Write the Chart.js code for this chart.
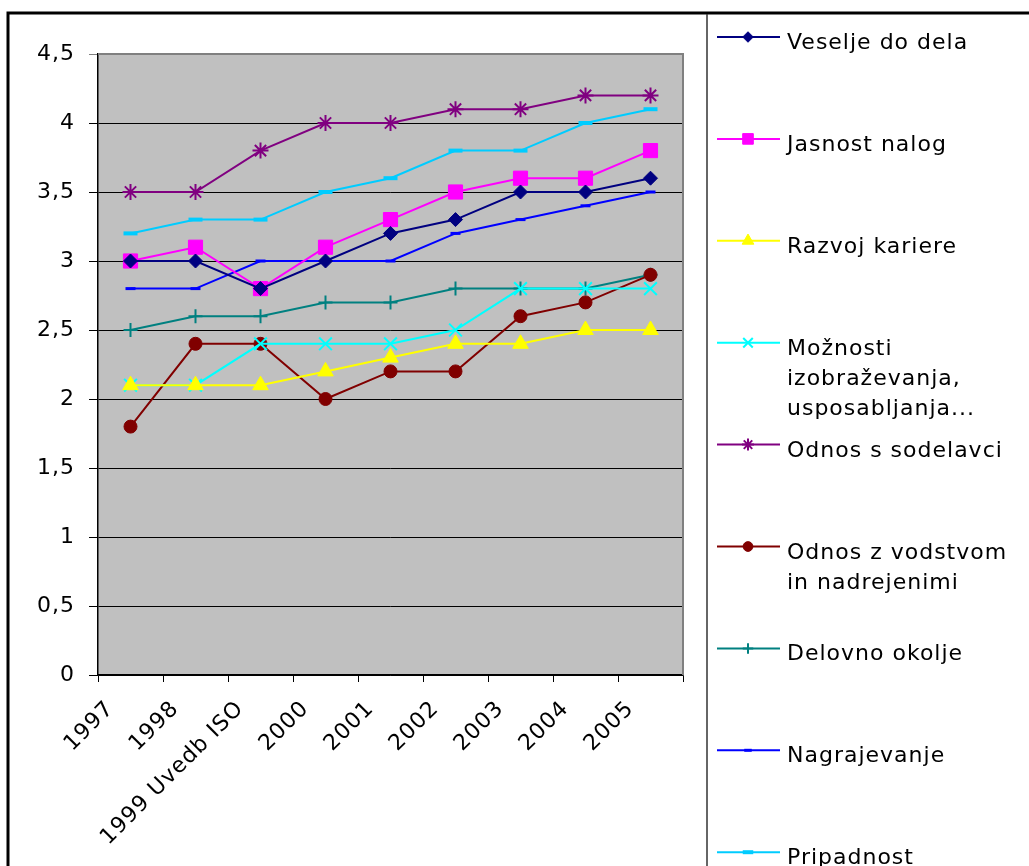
<!DOCTYPE html>
<html>
<head>
<meta charset="utf-8">
<script src="https://cdn.jsdelivr.net/npm/chart.js@4/dist/chart.umd.min.js"></script>
<style>
  html, body { margin: 0; padding: 0; background: #fff; }
  canvas { display: block; }
</style>
</head>
<body>
<canvas id="chart" width="1029" height="866"></canvas>
<script>
const years = ["1997", "1998", "1999 Uvedb ISO", "2000", "2001", "2002", "2003", "2004", "2005"];

const veselje      = [3.0, 3.0, 2.8, 3.0, 3.2, 3.3, 3.5, 3.5, 3.6];
const jasnost      = [3.0, 3.1, 2.8, 3.1, 3.3, 3.5, 3.6, 3.6, 3.8];
const kariera      = [2.1, 2.1, 2.1, 2.2, 2.3, 2.4, 2.4, 2.5, 2.5];
const izobrazevanje = [2.1, 2.1, 2.4, 2.4, 2.4, 2.5, 2.8, 2.8, 2.8];
const sodelavci    = [3.5, 3.5, 3.8, 4.0, 4.0, 4.1, 4.1, 4.2, 4.2];
const vodstvo      = [1.8, 2.4, 2.4, 2.0, 2.2, 2.2, 2.6, 2.7, 2.9];
const okolje       = [2.5, 2.6, 2.6, 2.7, 2.7, 2.8, 2.8, 2.8, 2.9];
const nagrajevanje = [2.8, 2.8, 3.0, 3.0, 3.0, 3.2, 3.3, 3.4, 3.5];
const pripadnost   = [3.2, 3.3, 3.3, 3.5, 3.6, 3.8, 3.8, 4.0, 4.1];

const seriesNames = [
  "Veselje do dela",
  "Jasnost nalog",
  "Razvoj kariere",
  "Možnosti\nizobraževanja,\nusposabljanja...",
  "Odnos s sodelavci",
  "Odnos z vodstvom\nin nadrejenimi",
  "Delovno okolje",
  "Nagrajevanje",
  "Pripadnost"
];
const yTicks = [0, 0.5, 1, 1.5, 2, 2.5, 3, 3.5, 4, 4.5];

const FONT = "'DejaVu Sans', Arial, sans-serif";

function series(i, data, color, style, radius, bw) {
  return {
    label: seriesNames[i],
    data: data,
    borderColor: color,
    backgroundColor: color,
    borderWidth: 2,
    pointStyle: style,
    pointRadius: radius,
    pointHoverRadius: radius,
    pointBorderWidth: bw,
    pointBackgroundColor: color,
    pointBorderColor: color,
    tension: 0
  };
}

// grey plot area + frame around the whole chart
const framePlugin = {
  id: 'framePlugin',
  beforeUpdate(chart) {
    chart.ctx.letterSpacing = '1px';
  },
  beforeDraw(chart) {
    const { ctx, chartArea: a } = chart;
    ctx.save();
    ctx.fillStyle = '#fff';
    ctx.fillRect(0, 0, chart.width, chart.height);
    ctx.fillStyle = '#c0c0c0';
    ctx.fillRect(a.left, a.top, a.right - a.left, a.bottom - a.top);
    ctx.strokeStyle = '#000';
    ctx.lineWidth = 3;
    ctx.beginPath();
    ctx.moveTo(8, chart.height);
    ctx.lineTo(8, 13);
    ctx.lineTo(chart.width, 13);
    ctx.stroke();
    ctx.strokeStyle = '#333';
    ctx.lineWidth = 1.5;
    ctx.beginPath();
    ctx.moveTo(707, 14);
    ctx.lineTo(707, chart.height);
    ctx.stroke();
    ctx.restore();
  },
  beforeDatasetsDraw(chart) {
    const { ctx, chartArea: a } = chart;
    ctx.save();
    ctx.strokeStyle = '#808080';
    ctx.lineWidth = 2;
    ctx.beginPath();
    ctx.moveTo(a.left, a.top);
    ctx.lineTo(a.right, a.top);
    ctx.lineTo(a.right, a.bottom);
    ctx.stroke();
    ctx.restore();
  }
};

// legend to the right of the plot, one row per series
const sideLegend = {
  id: 'sideLegend',
  afterDraw(chart, args, opts) {
    const ctx = chart.ctx;
    ctx.save();
    chart.data.datasets.forEach((ds, i) => {
      const y = opts.top + i * opts.step;
      ctx.strokeStyle = ds.borderColor;
      ctx.fillStyle = ds.borderColor;
      ctx.lineWidth = 2;
      ctx.beginPath();
      ctx.moveTo(opts.x, y);
      ctx.lineTo(opts.x + 63, y);
      ctx.stroke();
      ctx.lineWidth = ds.pointBorderWidth;
      Chart.helpers.drawPoint(ctx, {
        pointStyle: ds.pointStyle,
        radius: ds.pointRadius * 0.75,
        borderWidth: ds.pointBorderWidth,
        rotation: 0
      }, opts.x + 31, y);
      ctx.fillStyle = '#000';
      ctx.font = '22px ' + FONT;
      ctx.textBaseline = 'alphabetic';
      ctx.textAlign = 'left';
      ds.label.split('\n').forEach((line, k) => {
        ctx.fillText(line, opts.x + 70, y + 12 + k * 30);
      });
    });
    ctx.restore();
  }
};

const ctx = document.getElementById('chart').getContext('2d');
const chart = new Chart(ctx, {
  type: 'line',
  data: {
    labels: years,
    datasets: [
      series(0, veselje, '#000080', 'rectRot', 7, 1),
      series(1, jasnost, '#ff00ff', 'rect', 10, 1),
      series(2, kariera, '#ffff00', 'triangle', 9, 1),
      series(3, izobrazevanje, '#00ffff', 'crossRot', 9, 2),
      series(4, sodelavci, '#800080', 'star', 8, 2),
      series(5, vodstvo, '#800000', 'circle', 6.5, 1),
      series(6, okolje, '#008080', 'cross', 7, 2),
      series(7, nagrajevanje, '#0000ff', 'line', 5, 3),
      series(8, pripadnost, '#00ccff', 'line', 7, 4)
    ]
  },
  options: {
    responsive: false,
    animation: false,
    events: [],
    layout: { padding: { left: 19, top: 54, right: 346, bottom: 20 } },
    plugins: {
      legend: { display: false },
      tooltip: { enabled: false },
      sideLegend: { x: 717, top: 37, step: 101.9 }
    },
    scales: {
      x: {
        offset: true,
        afterFit(scale) { scale.height = 171; },
        grid: {
          offset: true,
          drawOnChartArea: false,
          drawTicks: true,
          tickLength: 7,
          color: '#000'
        },
        border: { color: '#000', width: 1.5 },
        ticks: {
          autoSkip: false,
          maxRotation: 45,
          minRotation: 45,
          color: '#000',
          padding: 14,
          labelOffset: -20,
          font: { family: FONT, size: 22 }
        }
      },
      y: {
        min: 0,
        max: 4.5,
        afterFit(scale) { scale.width = 79; },
        afterBuildTicks(scale) {
          scale.ticks = yTicks.map(v => ({ value: v }));
        },
        grid: {
          color: c => (c.tick && c.tick.value === 4.5 ? '#808080' : '#000'),
          lineWidth: 1,
          drawTicks: true,
          tickLength: 9
        },
        border: { color: '#000', width: 1.5 },
        ticks: {
          color: '#000',
          padding: 14,
          font: { family: FONT, size: 22 },
          callback: v => String(v).replace('.', ',')
        }
      }
    }
  },
  plugins: [framePlugin, sideLegend]
});
</script>
</body>
</html>
